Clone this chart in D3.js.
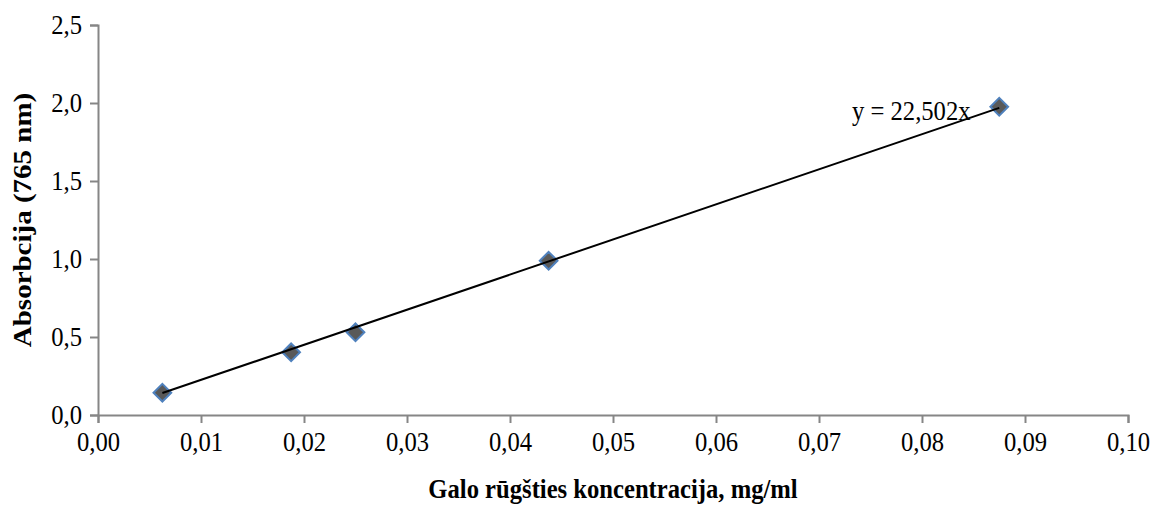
<!DOCTYPE html>
<html>
<head>
<meta charset="utf-8">
<script src="https://cdn.jsdelivr.net/npm/d3@7"></script>
<style>
  body { margin: 0; background: #fff; }
  text { font-family: "Liberation Serif", "Times New Roman", serif; }
</style>
</head>
<body>
<div id="chart"></div>
<script>
// measured points (concentration, absorbance)
var concentration = [0.00625, 0.01875, 0.025, 0.04375, 0.0875]
var absorbance = [0.143, 0.402, 0.530, 0.989, 1.976]
var slope = 22.502
var xTicks = [0, 0.01, 0.02, 0.03, 0.04, 0.05, 0.06, 0.07, 0.08, 0.09, 0.10]
var yTicks = [0, 0.5, 1.0, 1.5, 2.0, 2.5]

var width = 1154, height = 509
var margin = {top: 25, right: 26, bottom: 94, left: 98}

// the original picture is a bit squeezed sideways, so text is too
var fs = 28, sx = 0.88

var svg = d3.select("#chart")
  .append("svg")
    .attr("width", width)
    .attr("height", height)

var x = d3.scaleLinear()
  .domain([0, 0.10])
  .range([margin.left, width - margin.right])

var y = d3.scaleLinear()
  .domain([0, 2.5])
  .range([height - margin.bottom, margin.top])

var comma = function(digits) {
  return function(d) { return d3.format("." + digits + "f")(d).replace(".", ",") }
}

// x axis
var gx = svg.append("g")
  .attr("transform", "translate(0," + y(0) + ")")
  .call(d3.axisBottom(x).tickValues(xTicks).tickFormat(comma(2)).tickSize(8).tickPadding(8))
gx.select(".domain").attr("stroke", "#868686").attr("stroke-width", 2)
gx.selectAll(".tick line").attr("stroke", "#868686").attr("stroke-width", 2)
gx.selectAll(".tick text")
  .attr("font-size", fs).attr("fill", "#000")
  .attr("font-family", "Liberation Serif")
  .attr("transform", "scale(" + sx + ",1)")

// y axis
var gy = svg.append("g")
  .attr("transform", "translate(" + x(0) + ",0)")
  .call(d3.axisLeft(y).tickValues(yTicks).tickFormat(comma(1)).tickSize(8).tickPadding(8))
gy.select(".domain").attr("stroke", "#868686").attr("stroke-width", 2)
gy.selectAll(".tick line").attr("stroke", "#868686").attr("stroke-width", 2)
gy.selectAll(".tick text")
  .attr("font-size", fs).attr("fill", "#000")
  .attr("font-family", "Liberation Serif")
  .attr("x", -16 / sx)
  .attr("transform", "scale(" + sx + ",1)")

// trendline through origin, drawn over the data range
var xMin = d3.min(concentration), xMax = d3.max(concentration)

// diamond markers
var diamond = d3.symbol().type(d3.symbolDiamond2).size(200)
svg.selectAll(".pt")
  .data(concentration)
  .enter()
  .append("path")
    .attr("class", "pt")
    .attr("d", diamond)
    .attr("transform", function(d, i) { return "translate(" + x(d) + "," + y(absorbance[i]) + ")" })
    .attr("fill", "#595959")
    .attr("stroke", "#4f81bd")
    .attr("stroke-width", 2)

svg.append("line")
  .attr("x1", x(xMin)).attr("y1", y(slope * xMin))
  .attr("x2", x(xMax)).attr("y2", y(slope * xMax))
  .attr("stroke", "#000")
  .attr("stroke-width", 2)

// equation label
svg.append("text")
  .attr("transform", "translate(852,120) scale(" + sx + ",1)")
  .attr("font-size", fs)
  .text("y = 22,502x")

// axis titles
svg.append("text")
  .attr("transform", "translate(" + x(0.05) + ",498) scale(" + sx + ",1)")
  .attr("text-anchor", "middle")
  .attr("font-size", fs)
  .attr("font-weight", "bold")
  .text("Galo rūgšties koncentracija, mg/ml")

svg.append("text")
  .attr("transform", "translate(31," + y(1.25) + ") rotate(-90) scale(1," + sx + ")")
  .attr("text-anchor", "middle")
  .attr("font-size", 29)
  .attr("font-weight", "bold")
  .text("Absorbcija (765 nm)")
</script>
</body>
</html>
